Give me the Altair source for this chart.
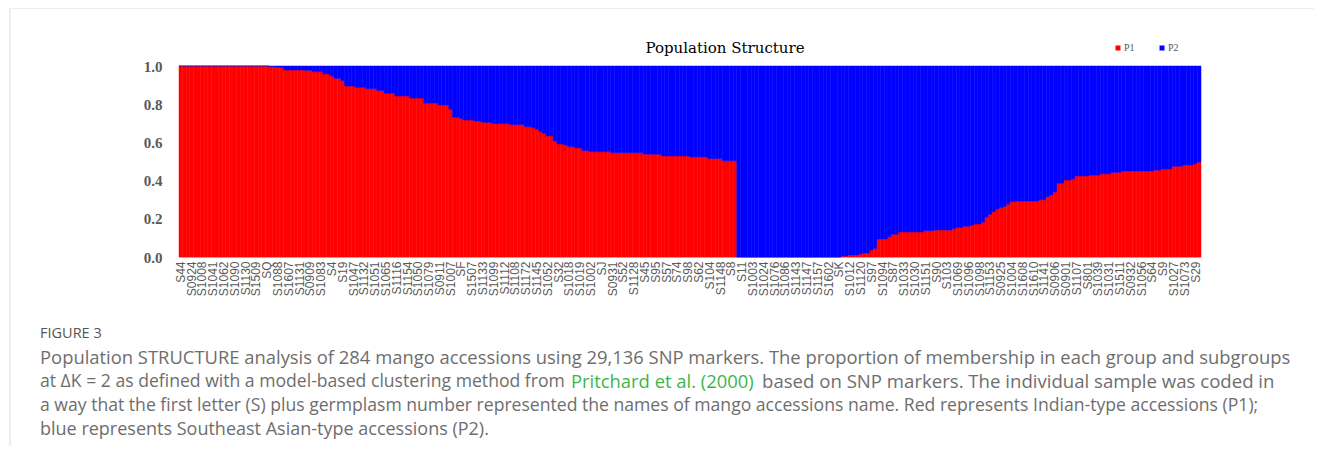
import altair as alt
import pandas as pd

# ---- data ----------------------------------------------------------------
# membership coefficient of P1 (red) for each of the 284 accessions, in plot order
p1 = [
    1.0, 1.0, 1.0, 1.0, 1.0, 1.0, 1.0, 1.0, 1.0, 1.0,
    1.0, 1.0, 1.0, 1.0, 1.0, 1.0, 1.0, 1.0, 1.0, 1.0,
    1.0, 1.0, 1.0, 1.0, 1.0, 0.996, 0.996, 0.993, 0.993, 0.979,
    0.979, 0.979, 0.979, 0.979, 0.979, 0.977, 0.977, 0.970, 0.970, 0.970,
    0.958, 0.958, 0.948, 0.935, 0.935, 0.923, 0.895, 0.895, 0.895, 0.888,
    0.888, 0.888, 0.881, 0.881, 0.881, 0.871, 0.871, 0.857, 0.857, 0.857,
    0.843, 0.843, 0.843, 0.843, 0.832, 0.832, 0.832, 0.832, 0.805, 0.805,
    0.805, 0.805, 0.796, 0.796, 0.796, 0.773, 0.731, 0.731, 0.724, 0.717,
    0.717, 0.717, 0.712, 0.712, 0.705, 0.705, 0.705, 0.698, 0.698, 0.698,
    0.698, 0.698, 0.693, 0.693, 0.693, 0.693, 0.682, 0.682, 0.677, 0.669,
    0.656, 0.647, 0.634, 0.634, 0.607, 0.592, 0.592, 0.586, 0.578, 0.578,
    0.571, 0.571, 0.557, 0.557, 0.551, 0.551, 0.551, 0.551, 0.551, 0.551,
    0.546, 0.546, 0.546, 0.546, 0.546, 0.546, 0.546, 0.546, 0.546, 0.538,
    0.538, 0.538, 0.538, 0.538, 0.529, 0.529, 0.529, 0.529, 0.529, 0.529,
    0.529, 0.529, 0.524, 0.524, 0.524, 0.524, 0.524, 0.515, 0.515, 0.515,
    0.515, 0.504, 0.504, 0.504, 0.504, 0.0, 0.0, 0.0, 0.0, 0.0,
    0.0, 0.0, 0.0, 0.0, 0.0, 0.0, 0.0, 0.0, 0.0, 0.0,
    0.0, 0.0, 0.0, 0.0, 0.0, 0.0, 0.0, 0.0, 0.0, 0.0,
    0.0, 0.0, 0.0, 0.0, 0.005, 0.005, 0.010, 0.010, 0.010, 0.016,
    0.021, 0.021, 0.037, 0.045, 0.094, 0.094, 0.094, 0.106, 0.119, 0.119,
    0.131, 0.131, 0.131, 0.131, 0.131, 0.131, 0.131, 0.138, 0.138, 0.138,
    0.141, 0.141, 0.141, 0.141, 0.141, 0.148, 0.155, 0.155, 0.161, 0.161,
    0.166, 0.173, 0.173, 0.182, 0.208, 0.223, 0.237, 0.250, 0.258, 0.264,
    0.276, 0.290, 0.290, 0.293, 0.293, 0.293, 0.293, 0.293, 0.293, 0.300,
    0.300, 0.316, 0.325, 0.340, 0.386, 0.386, 0.403, 0.403, 0.408, 0.424,
    0.424, 0.424, 0.424, 0.428, 0.428, 0.428, 0.435, 0.435, 0.435, 0.443,
    0.443, 0.443, 0.450, 0.450, 0.450, 0.450, 0.450, 0.450, 0.450, 0.450,
    0.450, 0.455, 0.455, 0.461, 0.461, 0.461, 0.475, 0.475, 0.475, 0.482,
    0.482, 0.482, 0.488, 0.497,
]

# accession names shown on the axis (every third bar is labelled)
tick_labels = [
    "S44", "S0924", "S1008", "S1041", "S1062", "S1090", "S1130", "S1509", "SQ", "S1088",
    "S1607", "S1131", "S0909", "S1083", "S4", "S19", "S1047", "S1132", "S1051", "S1065",
    "S1116", "S1154", "S1050", "S1079", "S0911", "S1007", "SF", "S1507", "S1133", "S1099",
    "S1112", "S1108", "S1172", "S1145", "S1052", "S32", "S1018", "S1019", "S1002", "SJ",
    "S0931", "S52", "S1128", "S45", "S95", "S57", "S74", "S98", "S62", "S104",
    "S1148", "S8", "S11", "S1003", "S1024", "S1076", "S1086", "S1143", "S1147", "S1157",
    "S1602", "SK", "S1012", "S1120", "S97", "S1094", "S87", "S1033", "S1030", "S1151",
    "S90", "S103", "S1069", "S1096", "S1098", "S1153", "S0925", "S1004", "S1608", "S1610",
    "S1141", "S0906", "S0901", "S1107", "S801", "S1039", "S1031", "S1511", "S0932", "S1056",
    "S64", "S9", "S1027", "S1073", "S29",
]

groups = ["P1", "P2"]
group_colors = ["#ff0000", "#0000ff"]
y_ticks = [0.0, 0.2, 0.4, 0.6, 0.8, 1.0]

chart_title = "Population Structure"
figure_label = "FIGURE 3"
caption_line1 = ("Population STRUCTURE analysis of 284 mango accessions using 29,136 SNP markers. "
                 "The proportion of membership in each group and subgroups")
caption_line2a = "at \u0394K = 2 as defined with a model-based clustering method from"
caption_line2b = "Pritchard et al. (2000)"
caption_line2c = "based on SNP markers. The individual sample was coded in"
caption_line3 = ("a way that the first letter (S) plus germplasm number represented the names of "
                 "mango accessions name. Red represents Indian-type accessions (P1);")
caption_line4 = "blue represents Southeast Asian-type accessions (P2)."

# ---- build table --------------------------------------------------------
rows = []
for i, v in enumerate(p1):
    rows.append({"idx": i, "group": "P1", "q": v, "ord": 0})
    rows.append({"idx": i, "group": "P2", "q": round(1.0 - v, 3), "ord": 1})
df = pd.DataFrame(rows)

n = len(p1)
label_expr = "[" + ",".join("'%s'" % s for s in tick_labels) + "][floor(datum.value / 3)]"

W, H = 1022, 191
LEFT, TOP = 171, 58
OX, OY = LEFT + 8, TOP + 8  # page position of the plot origin

color_scale = alt.Scale(domain=groups, range=group_colors)

bars = alt.Chart(df).mark_bar(strokeWidth=0.5).encode(
    x=alt.X(
        "idx:O",
        sort="ascending",
        scale=alt.Scale(paddingInner=0, paddingOuter=0),
        axis=alt.Axis(
            values=list(range(0, n, 3)),
            labelExpr=label_expr,
            labelAngle=-90,
            labelOverlap=False,
            labelFont="Liberation Sans",
            labelFontSize=12,
            labelColor="#595959",
            labelPadding=4,
            ticks=False,
            domainColor="#d0d0d0",
            domainWidth=1,
            title=None,
        ),
    ),
    y=alt.Y(
        "q:Q",
        stack="zero",
        scale=alt.Scale(domain=[0, 1], nice=False),
        axis=alt.Axis(
            values=y_ticks,
            format=".1f",
            labelFont="Liberation Serif",
            labelFontWeight="bold",
            labelFontSize=15,
            labelColor="#595959",
            labelPadding=17,
            domain=False,
            ticks=False,
            grid=False,
            title=None,
        ),
    ),
    color=alt.Color(
        "group:N",
        scale=color_scale,
        legend=alt.Legend(
            orient="none",
            legendX=934,
            legendY=-23,
            direction="horizontal",
            title=None,
            symbolType="square",
            symbolSize=25,
            symbolStrokeWidth=0,
            labelFont="Liberation Serif",
            labelFontSize=10,
            labelColor="#595959",
            labelOffset=1,
            columnPadding=22,
        ),
    ),
    stroke=alt.Stroke("group:N", scale=color_scale, legend=None),
    order=alt.Order("ord:Q"),
)


def text_layer(txt, px, py, size, color, font, align="left"):
    # px, py: page position of the text anchor
    return alt.Chart(pd.DataFrame({"t": [txt]})).mark_text(
        align=align, baseline="middle", fontSize=size, font=font, color=color,
    ).encode(text="t:N", x=alt.value(px - OX), y=alt.value(py - OY))


gray = "#6e6e6e"
cap_font = "Open Sans"
title_t = text_layer(chart_title, 725, 48, 15, "#000000", "DejaVu Serif", align="center")
fig_t = text_layer(figure_label, 40, 334, 14.5, "#555555", cap_font)
l1 = text_layer(caption_line1, 40, 358, 18.4, gray, cap_font)
l2a = text_layer(caption_line2a, 40, 382, 17.6, gray, cap_font)
l2b = text_layer(caption_line2b, 571, 382, 18.4, "#3db54a", cap_font)
l2c = text_layer(caption_line2c, 762, 382, 18.6, gray, cap_font)
l3 = text_layer(caption_line3, 40, 406, 17.6, gray, cap_font)
l4 = text_layer(caption_line4, 40, 430, 18, gray, cap_font)

frame_v = alt.Chart(pd.DataFrame({"k": [0]})).mark_rule(color="#dddddd", strokeWidth=1).encode(
    x=alt.value(10 - OX), y=alt.value(8 - OY), y2=alt.value(454 - OY)
)
frame_h = alt.Chart(pd.DataFrame({"k": [0]})).mark_rule(color="#dddddd", strokeWidth=1).encode(
    x=alt.value(10 - OX), x2=alt.value(1322 - OX), y=alt.value(8 - OY)
)

chart = alt.layer(
    frame_v, frame_h, bars, title_t, fig_t, l1, l2a, l2b, l2c, l3, l4
).properties(
    width=W,
    height=H,
    autosize=alt.AutoSizeParams(type="none"),
    padding={"left": LEFT, "top": TOP, "right": 1306 - LEFT - W, "bottom": 438 - TOP - H},
).configure_view(stroke=None)

chart.save("out.html", embed_options={"renderer": "svg", "actions": False})
